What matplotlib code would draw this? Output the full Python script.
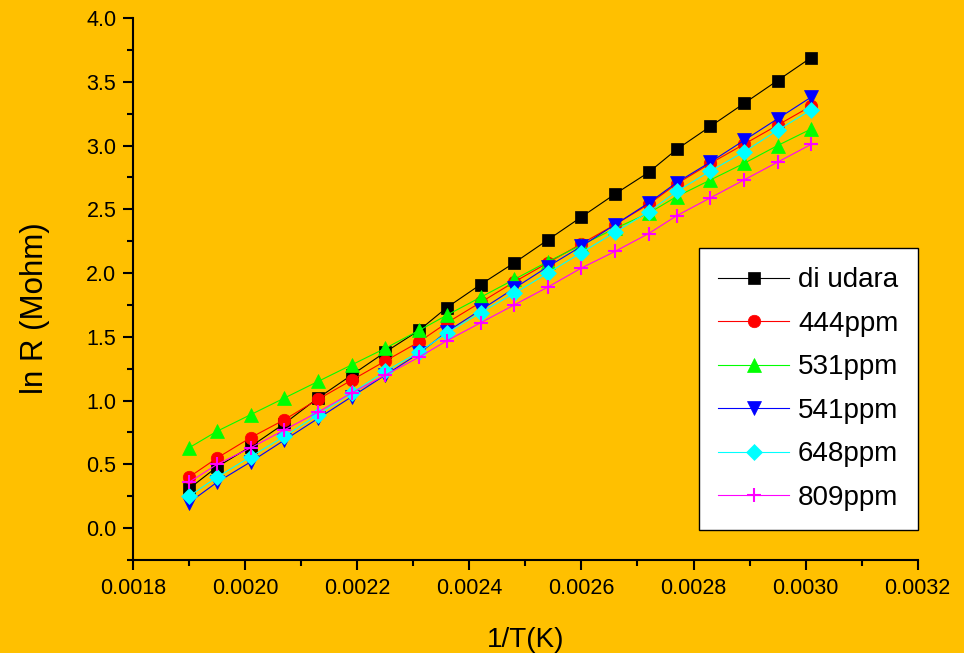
import matplotlib.pyplot as plt
import numpy as np

plt.rcParams['font.family'] = ['Liberation Sans', 'DejaVu Sans']

inv_T = [0.00190, 0.00195, 0.00201, 0.00207, 0.00213, 0.00219, 0.00225, 0.00231, 0.00236, 0.00242,
         0.00248, 0.00254, 0.00260, 0.00266, 0.00272, 0.00277, 0.00283, 0.00289, 0.00295, 0.00301]

di_udara = [0.31, 0.48, 0.64, 0.82, 1.02, 1.20, 1.38, 1.55, 1.73, 1.91,
            2.08, 2.26, 2.44, 2.62, 2.79, 2.97, 3.15, 3.33, 3.51, 3.69]
ppm444 = [0.40, 0.55, 0.71, 0.85, 1.01, 1.16, 1.31, 1.46, 1.61, 1.77,
          1.93, 2.08, 2.23, 2.38, 2.54, 2.70, 2.86, 3.01, 3.16, 3.31]
ppm531 = [0.63, 0.76, 0.89, 1.02, 1.15, 1.28, 1.41, 1.55, 1.67, 1.81,
          1.95, 2.09, 2.22, 2.35, 2.47, 2.60, 2.73, 2.86, 3.00, 3.13]
ppm541 = [0.20, 0.36, 0.52, 0.69, 0.86, 1.03, 1.20, 1.37, 1.54, 1.71,
          1.88, 2.05, 2.21, 2.38, 2.55, 2.71, 2.87, 3.04, 3.21, 3.38]
ppm648 = [0.25, 0.40, 0.56, 0.72, 0.89, 1.06, 1.23, 1.38, 1.53, 1.69,
          1.84, 2.00, 2.16, 2.32, 2.48, 2.64, 2.80, 2.95, 3.12, 3.28]
ppm809 = [0.36, 0.50, 0.63, 0.77, 0.91, 1.06, 1.20, 1.34, 1.47, 1.61,
          1.75, 1.89, 2.04, 2.17, 2.31, 2.45, 2.59, 2.73, 2.87, 3.01]

labels = ['di udara', '444ppm', '531ppm', '541ppm', '648ppm', '809ppm']
series = [di_udara, ppm444, ppm531, ppm541, ppm648, ppm809]
colors = ['black', 'red', '#00FF00', 'blue', 'cyan', 'magenta']
markers = ['s', 'o', '^', 'v', 'D', '+']
sizes = [8.5, 9, 10, 10, 8, 10]

bg = '#FFC000'
fig = plt.figure(figsize=(9.64, 6.53), dpi=100, facecolor=bg)
ax = fig.add_axes([0.138, 0.1424, 0.814, 0.830])
ax.set_facecolor(bg)

for y, lab, c, m, s in zip(series, labels, colors, markers, sizes):
    ax.plot(inv_T, y, color=c, marker=m, markersize=s, linewidth=0.8,
            markeredgecolor=c, markeredgewidth=1.5 if m == '+' else 0.5, label=lab)

ax.set_xlim(0.0018, 0.0032)
ax.set_ylim(-0.25, 4.0)
ax.set_xticks(np.arange(0.0018, 0.00321, 0.0002))
ax.set_xticklabels(['%.4f' % v for v in np.arange(0.0018, 0.00321, 0.0002)], fontsize=15.5)
ax.set_xticks(np.arange(0.0019, 0.0032, 0.0002), minor=True)
ax.set_yticks(np.arange(0.0, 4.01, 0.5))
ax.set_yticklabels(['%.1f' % v for v in np.arange(0.0, 4.01, 0.5)], fontsize=15.5)
ax.set_yticks(np.arange(-0.25, 4.0, 0.5), minor=True)

for side in ['top', 'right']:
    ax.spines[side].set_visible(False)
for side in ['left', 'bottom']:
    ax.spines[side].set_linewidth(1.5)
ax.tick_params(which='major', length=7, width=1.5, direction='out')
ax.tick_params(which='minor', length=4, width=1.5, direction='out')
ax.tick_params(axis='x', which='major', pad=6)
ax.tick_params(axis='y', which='major', pad=5)

ax.set_xlabel('1/T(K)', fontsize=20, labelpad=20)
ax.set_ylabel('ln R (Mohm)', fontsize=22.5)
ax.yaxis.set_label_coords(-0.106, 0.465)

leg = ax.legend(loc='lower right', bbox_to_anchor=(1.0, 0.055), fontsize=20,
                handlelength=2.55, fancybox=False, framealpha=1, edgecolor='black',
                borderpad=0.7, labelspacing=0.63, handletextpad=0.32, borderaxespad=0)
leg.get_frame().set_linewidth(1.0)

fig.savefig('out.png', dpi=100, facecolor=bg)
